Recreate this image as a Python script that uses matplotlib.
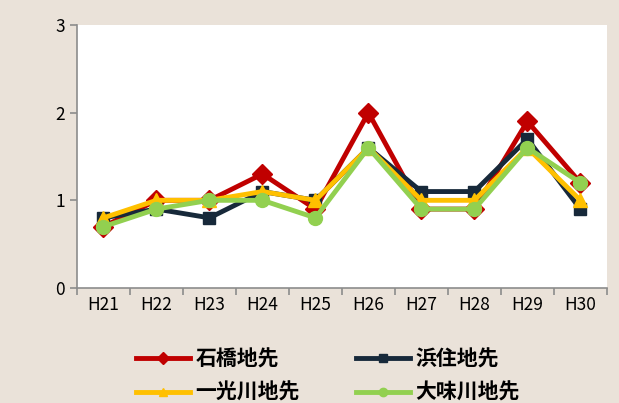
import numpy as np
import matplotlib.pyplot as plt

plt.rcParams['font.family'] = ['Noto Sans CJK JP', 'DejaVu Sans']

years = ['H21', 'H22', 'H23', 'H24', 'H25', 'H26', 'H27', 'H28', 'H29', 'H30']
ishibashi = [0.7, 1.0, 1.0, 1.3, 0.9, 2.0, 0.9, 0.9, 1.9, 1.2]
hamazumi = [0.8, 0.9, 0.8, 1.1, 1.0, 1.6, 1.1, 1.1, 1.7, 0.9]
ikkogawa = [0.8, 1.0, 1.0, 1.1, 1.0, 1.6, 1.0, 1.0, 1.6, 1.0]
omigawa = [0.7, 0.9, 1.0, 1.0, 0.8, 1.6, 0.9, 0.9, 1.6, 1.2]

series = [
    ('石橋地先', ishibashi, '#C00000', 'D', 10.5),
    ('浜住地先', hamazumi, '#17293A', 's', 9),
    ('一光川地先', ikkogawa, '#FFC000', '^', 10),
    ('大味川地先', omigawa, '#92D050', 'o', 10),
]

bg = '#EAE2D9'
fig = plt.figure(figsize=(6.19, 4.03), dpi=100, facecolor=bg)
ax = fig.add_axes([0.1244, 0.2854, 0.856, 0.6526])
ax.set_facecolor('white')

x = np.arange(len(years))
lines = {}
for name, vals, color, marker, ms in series:
    lines[name], = ax.plot(x, vals, color=color, lw=3.5, marker=marker, ms=ms,
                           label=name)

ax.set_xlim(-0.5, len(years) - 0.5)
ax.set_ylim(0, 3)
ax.set_yticks([0, 1, 2, 3])
ax.set_xticks(np.arange(-0.5, len(years), 1.0))
ax.set_xticklabels([])
ax.set_xticks(x, minor=True)
ax.set_xticklabels(years, minor=True)

for s in ['top', 'right']:
    ax.spines[s].set_visible(False)
for s in ['left', 'bottom']:
    ax.spines[s].set_color('#8C8C8C')
    ax.spines[s].set_linewidth(1.2)
ax.tick_params(axis='both', which='major', color='#8C8C8C', length=5, width=1.2,
               labelsize=12.5, colors='#8C8C8C', labelcolor='black')
ax.tick_params(axis='x', which='minor', length=0, labelsize=12.5, pad=6)

# two columns, filled row by row
order = ['石橋地先', '一光川地先', '浜住地先', '大味川地先']
fig.legend([lines[n] for n in order], order, loc='center',
           bbox_to_anchor=(0.53, 0.068), ncol=2, frameon=False,
           handlelength=2.6, handletextpad=0.25, columnspacing=2.7,
           labelspacing=0.6, prop={'size': 15, 'weight': 'bold'},
           markerscale=0.6)

fig.savefig('out.png', facecolor=bg)
